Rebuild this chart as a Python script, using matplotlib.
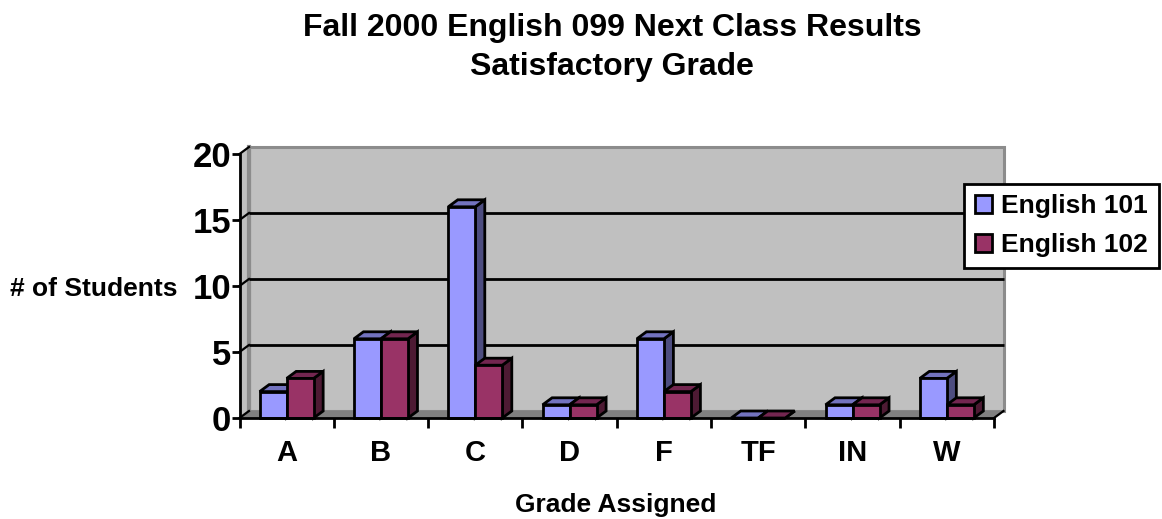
import matplotlib
matplotlib.use("Agg")
import matplotlib.pyplot as plt
from matplotlib.patches import Polygon, Patch

plt.rcParams['font.family'] = ['Liberation Sans', 'DejaVu Sans']
plt.rcParams['font.weight'] = 'bold'

categories = ["A", "B", "C", "D", "F", "TF", "IN", "W"]
english_101 = [2, 6, 16, 1, 6, 0, 1, 3]
english_102 = [3, 6, 4, 1, 2, 0, 1, 1]
y_ticks = [0, 5, 10, 15, 20]
title = "Fall 2000 English 099 Next Class Results\nSatisfactory Grade"
x_label = "Grade Assigned"
y_label = "# of Students"
series_names = ["English 101", "English 102"]

W, H = 1162, 519
fig = plt.figure(figsize=(W / 100, H / 100), dpi=100, facecolor="white")
L, R, T, B = 239.5, 994.0, 154.0, 418.0
ax = fig.add_axes([L / W, 1 - B / H, (R - L) / W, (B - T) / H])
ax.set_xlim(0, len(categories))
ax.set_ylim(0, 20)
ax.patch.set_visible(False)

# depth of the 3-D box, in data units
DX = 9.5 / ((R - L) / len(categories))
DY = 7.0 / ((B - T) / 20)
BW = 27.0 / ((R - L) / len(categories))
n = len(categories)

WALL, EDGE, FLOOR = "#C0C0C0", "#8C8C8C", "#808080"
ax.add_patch(Polygon([(DX, DY), (DX, 20 + DY), (n + DX, 20 + DY), (n + DX, DY)],
                     fc=WALL, ec=EDGE, lw=2.2, zorder=1, clip_on=False))
ax.add_patch(Polygon([(0, 0), (0, 20), (DX, 20 + DY), (DX, DY)],
                     fc=WALL, ec=EDGE, lw=0, zorder=1, clip_on=False))
ax.plot([DX, DX], [DY, 20 + DY], color=EDGE, lw=3, zorder=1.5, clip_on=False)
ax.add_patch(Polygon([(0, 0), (n, 0), (n + DX, DY), (DX, DY)],
                     fc=FLOOR, ec=FLOOR, lw=0.5, zorder=1.6, clip_on=False))

for v in y_ticks[1:-1]:
    ax.plot([DX, n + DX], [v + DY, v + DY], color="black", lw=2, zorder=1.8,
            clip_on=False, solid_capstyle="butt")
for v in y_ticks:
    ax.plot([0, DX], [v, v + DY], color="black", lw=1.6, zorder=2, clip_on=False)
ax.plot([n, n + DX], [0, DY], color="black", lw=1.6, zorder=2, clip_on=False)

styles = [("#9999FF", "#7373BF", "#4D4D80"), ("#993366", "#732650", "#4D1A33")]
z = 3.0
for i in range(n):
    for s, vals in enumerate((english_101, english_102)):
        v = vals[i]
        x0 = i + 0.5 - BW + s * BW
        x1 = x0 + BW
        front, top, side = styles[s]
        ax.bar(x0, v, width=BW, align="edge", color=front, edgecolor="black",
               linewidth=2, zorder=z + 0.2, clip_on=False)
        ax.add_patch(Polygon([(x0, v), (x1, v), (x1 + DX, v + DY), (x0 + DX, v + DY)],
                             fc=top, ec="black", lw=2, zorder=z + 0.1, clip_on=False))
        ax.add_patch(Polygon([(x1, 0), (x1, v), (x1 + DX, v + DY), (x1 + DX, DY)],
                             fc=side, ec="black", lw=2, zorder=z, clip_on=False))
        z += 1

for sp in ("top", "right"):
    ax.spines[sp].set_visible(False)
for sp in ("left", "bottom"):
    ax.spines[sp].set_linewidth(2)
    ax.spines[sp].set_zorder(50)

ax.set_yticks(y_ticks)
ax.set_yticklabels([str(v) for v in y_ticks], fontsize=25, fontweight="bold")
ax.tick_params(axis="y", length=6, width=2, pad=0)
ax.set_xticks(range(n + 1))
ax.set_xticklabels([""] * (n + 1))
ax.set_xticks([i + 0.5 for i in range(n)], minor=True)
ax.set_xticklabels(categories, minor=True, fontsize=21, fontweight="bold")
ax.tick_params(axis="x", which="major", length=7, width=2)
ax.tick_params(axis="x", which="minor", length=0, pad=15)

ax.set_xlabel(x_label, fontsize=19, fontweight="bold")
ax.xaxis.set_label_coords((616 - L) / (R - L), (B - 505) / (B - T), transform=ax.transAxes)
ax.xaxis.label.set_va("center")
ax.set_ylabel(y_label, fontsize=19, fontweight="bold", rotation=0, ha="center", va="center")
ax.yaxis.set_label_coords((94 - L) / (R - L), (B - 289) / (B - T), transform=ax.transAxes)

fig.text(612 / W, 1 - 47.5 / H, title, ha="center", va="center", fontsize=23,
         fontweight="bold", linespacing=1.39, color="black")

handles = [Patch(fc=styles[i][0], ec="black", lw=2) for i in range(2)]
leg = ax.legend(handles, series_names, loc="upper left",
                bbox_to_anchor=(964.5 / W, 1 - 183.5 / H), bbox_transform=fig.transFigure,
                fontsize=19, frameon=True, fancybox=False, framealpha=1, edgecolor="black",
                handlelength=0.66, handleheight=0.66, handletextpad=0.34,
                labelspacing=0.58, borderpad=0.4, borderaxespad=0)
leg.get_frame().set_linewidth(2)
leg.set_zorder(100)

fig.savefig("out.png", dpi=100, facecolor="white")
